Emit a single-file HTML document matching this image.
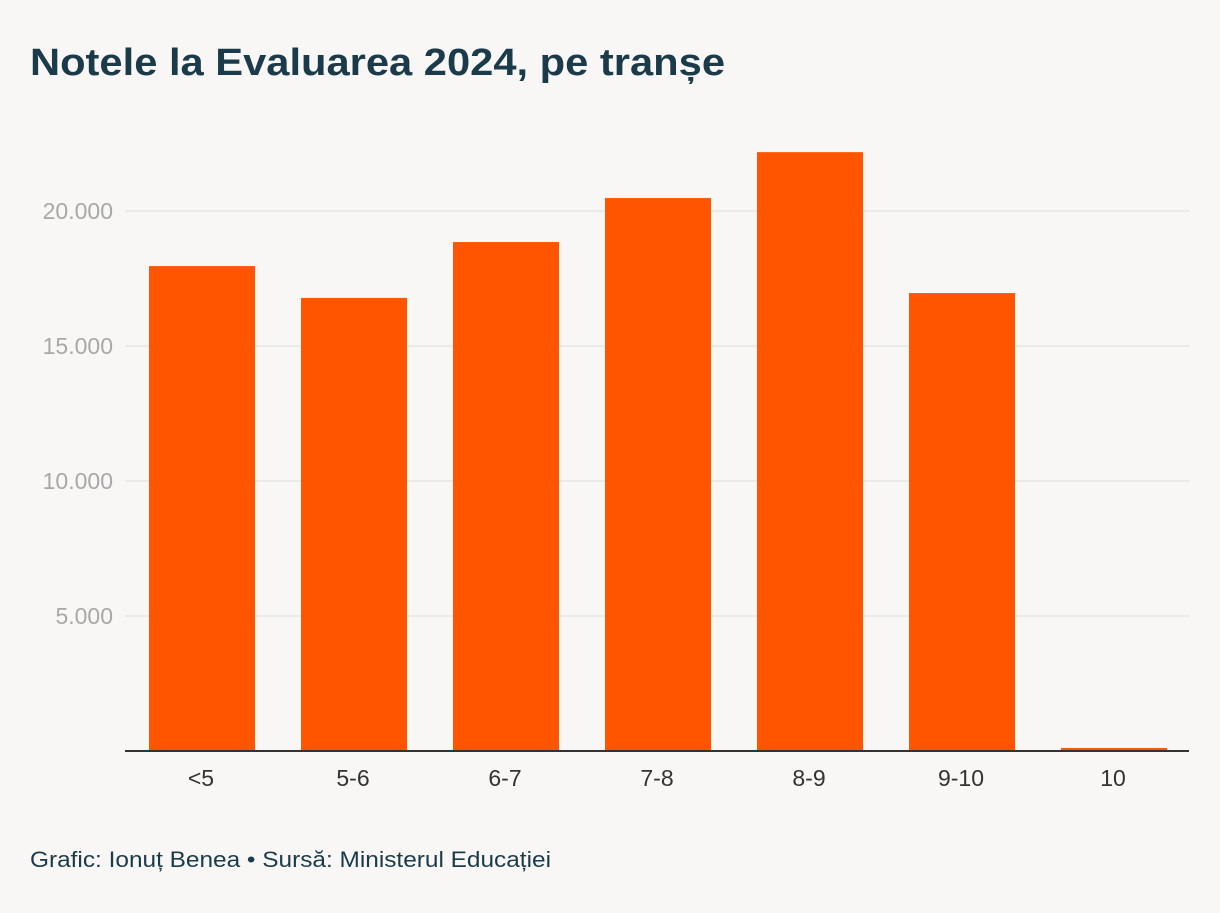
<!DOCTYPE html>
<html><head><meta charset="utf-8"><style>
body{margin:0;background:#f8f7f5;width:1220px;height:908px;overflow:hidden;font-family:"Liberation Sans",sans-serif}
</style></head><body>
<svg id="c" width="1220" height="908">
<rect width="1220" height="908" fill="#f8f7f5"/>
<text x="30" y="75" font-size="38" font-weight="bold" fill="#1c3b4a" textLength="695" lengthAdjust="spacingAndGlyphs">Notele la Evaluarea 2024, pe tranșe</text>
<g id="grid"></g><g id="bars"></g><g id="xl"></g>
<line x1="125" x2="1189" y1="751" y2="751" stroke="#333" stroke-width="2"/>
<text x="30" y="867" font-size="22" fill="#1c3b4a" textLength="521" lengthAdjust="spacingAndGlyphs">Grafic: Ionuț Benea • Sursă: Ministerul Educației</text>
</svg>
<script>
const categories=["<5","5-6","6-7","7-8","8-9","9-10","10"];
const values=[17960,16780,18850,20480,22180,16960,110];
const ticks=[5000,10000,15000,20000];
const tickLabels=["5.000","10.000","15.000","20.000"];
const ns="http://www.w3.org/2000/svg";
const y=v=>751-v*0.027;
const bx=i=>125+i*152;
function mk(t,a,p){const e=document.createElementNS(ns,t);for(const k in a)e.setAttribute(k,a[k]);p.appendChild(e);return e;}
const g=document.getElementById('grid');
ticks.forEach((t,i)=>{
 const l=mk('line',{x1:125,x2:1189,y1:y(t),y2:y(t),stroke:'#dddddd','stroke-width':1},g);
 
 
 const tx=mk('text',{x:113,y:y(t)+8,'text-anchor':'end','font-size':23,fill:'#a8a8a8'},g);
 tx.textContent=tickLabels[i];
 
 
});
const b=document.getElementById('bars'),xl=document.getElementById('xl');
categories.forEach((c,i)=>{
 const r=mk('rect',{x:bx(i)+24,y:y(values[i]),width:106,height:751-y(values[i]),fill:'#ff5500'},b);
 
 
 const t=mk('text',{x:bx(i)+76,y:786,'text-anchor':'middle','font-size':23,fill:'#333'},xl);
 t.textContent=c;
 
 
});
</script>
</body></html>
